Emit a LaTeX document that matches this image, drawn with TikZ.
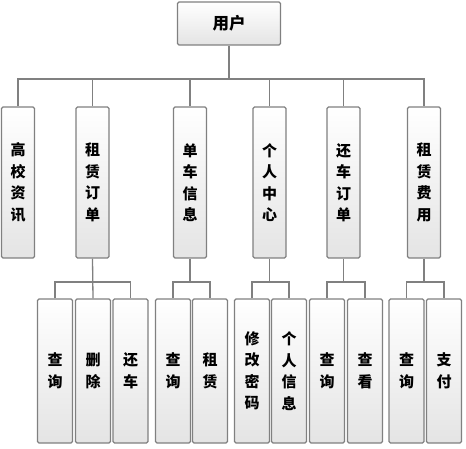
\documentclass[tikz,border=0pt]{standalone}
\usepackage{fontspec}
\setmainfont{Noto Sans CJK SC}
\definecolor{edge}{HTML}{808080}
\definecolor{shadeb}{HTML}{E4E4E4}
\tikzset{
  box/.style={draw=edge, line width=1.1pt, rounded corners=1.5pt,
    top color=white, bottom color=shadeb, inner sep=0pt, align=center,
    font=\fontsize{15}{21.5}\selectfont\bfseries},
  lvltwo/.style={box, minimum width=33pt, minimum height=151pt},
  lvlthree/.style={box, minimum width=35pt, minimum height=144pt},
  wire/.style={draw=edge, line width=1.3pt}
}
\begin{document}
\begin{tikzpicture}[x=1pt, y=-1pt]
\useasboundingbox (0,0) rectangle (466,449);
\node[box, minimum width=103pt, minimum height=43pt, font=\fontsize{16.5}{20}\selectfont\bfseries] (user) at (229,23.5) {用户};
% level two
\node[lvltwo] (A) at (18,182.5) {高\\校\\资\\讯};
\node[lvltwo] (B) at (92.5,182.5) {租\\赁\\订\\单};
\node[lvltwo] (C) at (190,182.5) {单\\车\\信\\息};
\node[lvltwo] (D) at (269.5,182.5) {个\\人\\中\\心};
\node[lvltwo] (E) at (343.5,182.5) {还\\车\\订\\单};
\node[lvltwo] (F) at (424,182.5) {租\\赁\\费\\用};
% level three
\node[lvlthree] (B1) at (55,371) {查\\询};
\node[lvlthree] (B2) at (93,371) {删\\除};
\node[lvlthree] (B3) at (130.5,371) {还\\车};
\node[lvlthree] (C1) at (173,371) {查\\询};
\node[lvlthree] (C2) at (210,371) {租\\赁};
\node[lvlthree] (D1) at (252,371) {修\\改\\密\\码};
\node[lvlthree] (D2) at (289,371) {个\\人\\信\\息};
\node[lvlthree] (E1) at (327,371) {查\\询};
\node[lvlthree] (E2) at (365,371) {查\\看};
\node[lvlthree] (F1) at (406.5,371) {查\\询};
\node[lvlthree] (F2) at (444,371) {支\\付};
\coordinate (bus) at (0,79);
\coordinate (bb) at (0,282);
% connectors level one to two
\draw[wire] (user.south) -- (user.south |- bus);
\draw[wire] (A.north) -- (A.north |- bus) -- (F.north |- bus) -- (F.north);
\foreach \n in {B,C,D,E} \draw[wire] (\n.north) -- (\n.north |- bus);
% connectors level two to three
\draw[wire] (B.south) -- (B2.north);
\draw[wire] (B1.north) -- (B1.north |- bb) -- (B3.north |- bb) -- (B3.north);
\foreach \p/\a/\b in {C/C1/C2, D/D1/D2, E/E1/E2, F/F1/F2} {
  \draw[wire] (\p.south) -- (\p.south |- bb);
  \draw[wire] (\a.north) -- (\a.north |- bb) -- (\b.north |- bb) -- (\b.north);
}
\end{tikzpicture}
\end{document}
